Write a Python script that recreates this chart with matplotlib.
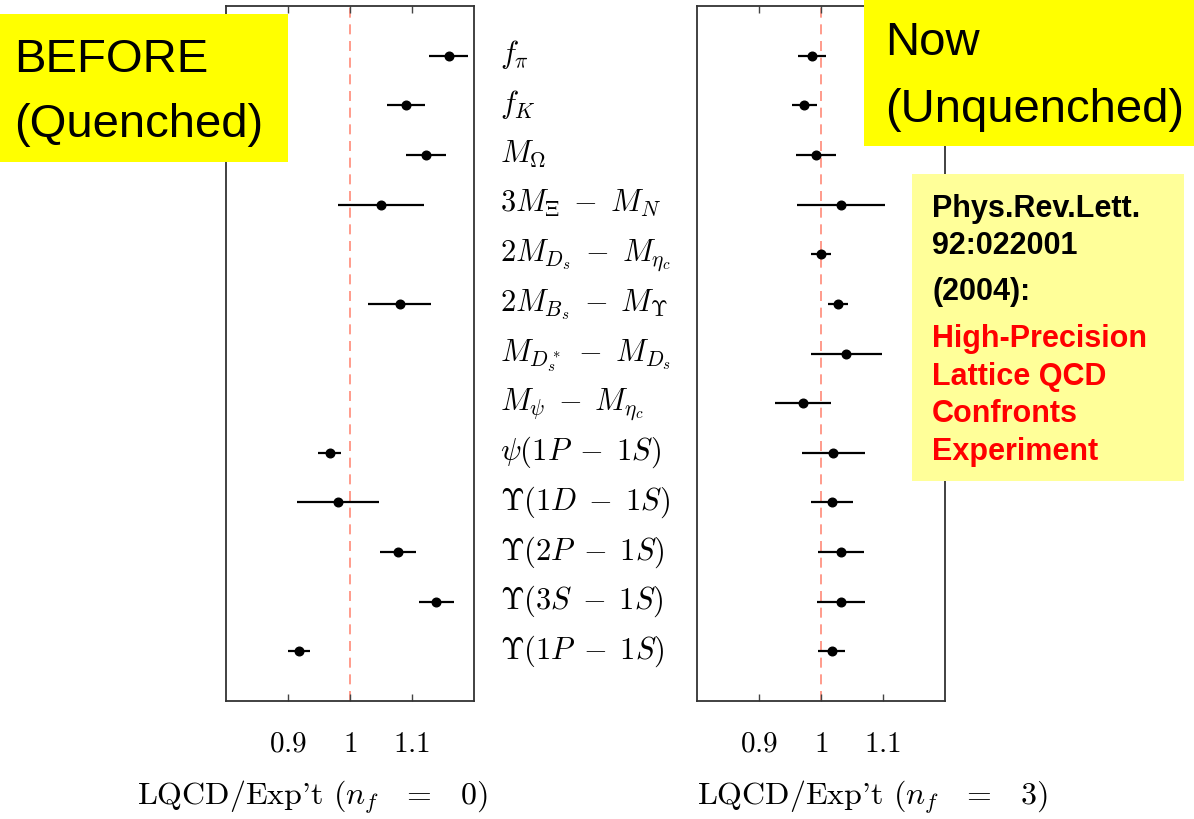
import numpy as np
import matplotlib
matplotlib.use("Agg")
import matplotlib.pyplot as plt
from matplotlib.patches import Rectangle
import matplotlib.transforms as mtransforms

plt.rcParams['mathtext.fontset'] = 'cm'

# quantities, top to bottom
quantities = [r'$f_\pi$', r'$f_K$', r'$M_\Omega$', r'$3M_\Xi\;-\;M_N$',
              r'$2M_{D_s}\;-\;M_{\eta_c}$', r'$2M_{B_s}\;-\;M_\Upsilon$',
              r'$M_{D_s^*}\;-\;M_{D_s}$', r'$M_\psi\;-\;M_{\eta_c}$',
              r'$\psi(1P\;-\;1S)$', r'$\Upsilon(1D\;-\;1S)$',
              r'$\Upsilon(2P\;-\;1S)$', r'$\Upsilon(3S\;-\;1S)$',
              r'$\Upsilon(1P\;-\;1S)$']

# quenched (n_f = 0) ratios, nan where no result
quenched = [1.159, 1.090, 1.123, 1.050, np.nan, 1.080, np.nan, np.nan,
            0.967, 0.981, 1.077, 1.139, 0.918]
quenched_err = [0.031, 0.031, 0.032, 0.070, np.nan, 0.051, np.nan, np.nan,
                0.0185, 0.066, 0.029, 0.028, 0.0175]

# unquenched (n_f = 3) ratios
unquenched = [0.985, 0.973, 0.992, 1.032, 1.000, 1.028, 1.041, 0.971,
              1.020, 1.018, 1.032, 1.033, 1.017]
unquenched_err = [0.0226, 0.020, 0.032, 0.0715, 0.016, 0.016, 0.057, 0.045,
                  0.051, 0.0336, 0.0376, 0.0387, 0.0215]

xticks = [0.9, 1.0, 1.1]
xticklabels = ['$0.9$', '$1$', '$1.1$']

W, H = 1194, 820
fig = plt.figure(figsize=(W / 100, H / 100), dpi=100)


def fx(x):
    return x / W


def fy(y):
    return 1 - y / H


rows = np.arange(len(quantities))


def panel(left, vals, errs):
    ax = fig.add_axes([fx(left), fy(702), fx(248), 695 / H])
    ax.axvline(1.0, color='#ff8a78', lw=1.2, ls=(0, (6, 4)), zorder=1)
    ax.errorbar(vals, rows, xerr=errs, fmt='o', color='black', ms=6.2,
                elinewidth=1.6, capsize=0, zorder=3)
    ax.set_xlim(0.8, 1.2)
    ax.set_ylim(13.0, -1.0)
    ax.set_yticks([])
    ax.set_xticks(xticks)
    ax.set_xticklabels(xticklabels)
    ax.tick_params(axis='x', direction='in', top=True, length=5, width=1,
                   pad=20, labelsize=21, color='#444444')
    for s in ax.spines.values():
        s.set_linewidth(1.3)
        s.set_color('#333333')
    return ax


ax1 = panel(226, quenched, quenched_err)
ax2 = panel(697, unquenched, unquenched_err)

# row names between the panels
trans = mtransforms.blended_transform_factory(fig.transFigure, ax1.transData)
for i, q in enumerate(quantities):
    ax1.text(fx(500), i + 0.13, q, transform=trans, ha='left', va='baseline',
             fontsize=22, clip_on=False)

# axis titles
fig.text(fx(137), fy(805), r"LQCD/Exp't $(n_f\;\;\;=\;\;\;0)$",
         family='cmr10', fontsize=23, ha='left', va='baseline')
fig.text(fx(697), fy(805), r"LQCD/Exp't $(n_f\;\;\;=\;\;\;3)$",
         family='cmr10', fontsize=23, ha='left', va='baseline')


def box(x0, y0, x1, y1, color):
    fig.add_artist(Rectangle((fx(x0), fy(y1)), fx(x1 - x0), (y1 - y0) / H,
                             transform=fig.transFigure, facecolor=color,
                             edgecolor='none', zorder=5))


def label(x, y, s, **kw):
    fig.text(fx(x), fy(y), s, family='Liberation Sans', ha='left',
             va='baseline', zorder=6, **kw)


box(0, 15, 288, 163, '#ffff00')
label(14, 72, 'BEFORE', fontsize=34)
label(14, 137, '(Quenched)', fontsize=34)

box(864, 0, 1194, 147, '#ffff00')
label(885, 55, 'Now', fontsize=34)
label(885, 122, '(Unquenched)', fontsize=34)

box(912, 175, 1184, 482, '#ffff99')
for y, s in [(217, 'Phys.Rev.Lett.'), (254, '92:022001'), (300, '(2004):')]:
    label(932, y, s, fontsize=22, fontweight='bold', color='black')
for y, s in [(347, 'High-Precision'), (385, 'Lattice QCD'),
             (422, 'Confronts'), (460, 'Experiment')]:
    label(932, y, s, fontsize=22, fontweight='bold', color='#ff0000')

fig.savefig('out.png', dpi=100)
